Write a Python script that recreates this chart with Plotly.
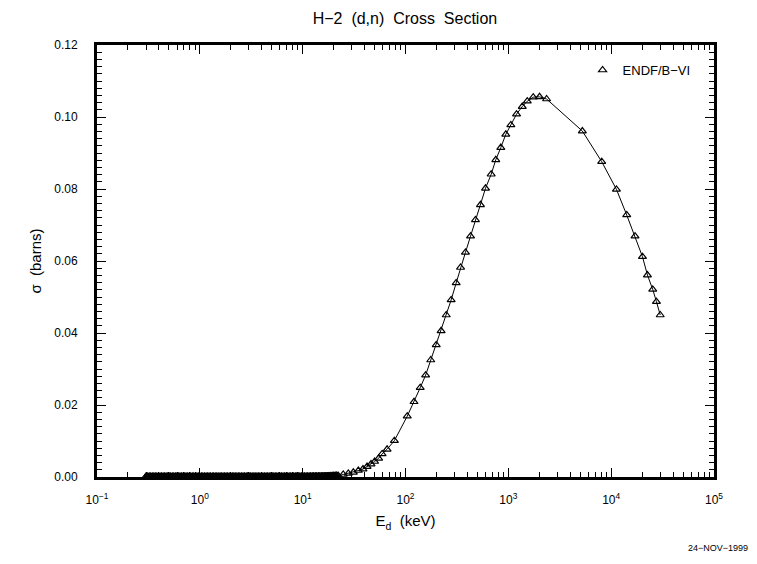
import plotly.graph_objects as go

# ---- data ----
# low-energy region: dense points, cross section essentially zero
energy_low_kev = [
    0.300, 0.311, 0.322, 0.333, 0.345, 0.357, 0.369, 0.382, 0.396, 0.410,
    0.424, 0.439, 0.454, 0.470, 0.487, 0.504, 0.521, 0.540, 0.558, 0.578,
    0.598, 0.619, 0.641, 0.663, 0.687, 0.711, 0.735, 0.761, 0.788, 0.815,
    0.844, 0.873, 0.904, 0.936, 0.968, 1.00, 1.04, 1.07, 1.11, 1.15,
    1.19, 1.23, 1.27, 1.32, 1.36, 1.41, 1.46, 1.51, 1.57, 1.62,
    1.68, 1.74, 1.80, 1.86, 1.93, 2.00, 2.07, 2.14, 2.21, 2.29,
    2.37, 2.45, 2.54, 2.63, 2.72, 2.82, 2.91, 3.02, 3.12, 3.23,
    3.35, 3.46, 3.59, 3.71, 3.84, 3.98, 4.11, 4.26, 4.41, 4.56,
    4.72, 4.89, 5.06, 5.24, 5.42, 5.61, 5.81, 6.01, 6.22, 6.44,
    6.66, 6.90, 7.14, 7.39, 7.65, 7.91, 8.19, 8.48, 8.77, 9.08,
    9.40, 9.73, 10.07, 10.42, 10.79, 11.16, 11.55, 11.96, 12.38, 12.81,
    13.26, 13.72, 14.20, 14.70, 15.21, 15.75, 16.30, 16.87, 17.46, 18.07,
    18.70, 19.36, 20.04, 20.74, 21.47,
]
sigma_low_barns = [
    0.0, 0.0, 0.0, 0.0, 0.0, 0.0, 0.0, 0.0, 0.0, 0.0,
    0.0, 0.0, 0.0, 0.0, 0.0, 0.0, 0.0, 0.0, 0.0, 0.0,
    0.0, 0.0, 0.0, 0.0, 0.0, 0.0, 0.0, 0.0, 0.0, 0.0,
    0.0, 0.0, 0.0, 0.0, 0.0, 0.0, 0.0, 0.0, 0.0, 0.0,
    0.0, 0.0, 0.0, 0.0, 0.0, 0.0, 0.0, 0.0, 0.0, 0.0,
    0.0, 0.0, 0.0, 0.0, 0.0, 0.0, 0.0, 0.0, 0.0, 0.0,
    0.0, 0.0, 0.0, 0.0, 0.0, 0.0, 0.0, 0.0, 0.0, 0.0,
    0.0, 0.0, 0.0, 0.0, 0.0, 0.0, 0.0, 0.0, 0.0, 0.0,
    0.0, 0.0, 0.0, 0.0, 0.0, 0.0, 0.000001, 0.000001, 0.000001, 0.000002,
    0.000002, 0.000003, 0.000003, 0.000004, 0.000005, 0.000006, 0.000007, 0.000008, 0.000010, 0.000012,
    0.000014, 0.000016, 0.000019, 0.000022, 0.000025, 0.000029, 0.000033, 0.000038, 0.000043, 0.000049,
    0.000055, 0.000062, 0.000070, 0.000079, 0.000089, 0.00010, 0.00011, 0.00012, 0.00014, 0.00015,
    0.00017, 0.00019, 0.00021, 0.00023, 0.00026,
]
# rise, peak and fall
energy_high_kev = [
    22.2, 24.8, 27.8, 31.1, 34.8, 38.6, 42.3, 46.2, 50.1, 54.8,
    59.2, 66.2, 78.0, 104.0, 121.0, 139.0, 157.0, 176.0, 199.0, 222.0,
    249.0, 278.0, 311.0, 343.0, 383.0, 429.0, 479.0, 536.0, 600.0, 681.0,
    755.0, 845.0, 945.0, 1058.0, 1202.0, 1366.0, 1528.0, 1747.0, 2012.0, 2355.0,
    5245.0, 8090.0, 11250.0, 14160.0, 17060.0, 20150.0, 22530.0, 25370.0, 27560.0, 30000.0,
]
sigma_high_barns = [
    0.00035, 0.0007, 0.0010, 0.0013, 0.0018, 0.0022, 0.0029, 0.0036, 0.0043, 0.0052,
    0.0064, 0.0077, 0.0101, 0.0169, 0.0209, 0.0248, 0.0283, 0.0325, 0.0367, 0.0406,
    0.0450, 0.0492, 0.0539, 0.0582, 0.0624, 0.0669, 0.0714, 0.0756, 0.0802, 0.0841,
    0.0881, 0.0915, 0.0952, 0.0978, 0.1008, 0.1029, 0.1044, 0.1055, 0.1056, 0.1050,
    0.0961, 0.0876, 0.0799, 0.0728, 0.0669, 0.0612, 0.0561, 0.0521, 0.0487, 0.0450,
]
series_name = "ENDF/B\u2212VI"
x_tick_values = [0.1, 1, 10, 100, 1000, 10000, 100000]
x_tick_labels = ["10<sup>\u22121</sup>", "10<sup>0</sup>", "10<sup>1</sup>",
                 "10<sup>2</sup>", "10<sup>3</sup>", "10<sup>4</sup>", "10<sup>5</sup>"]
title_text = "H\u22122  (d,n)  Cross  Section"
x_title = "E<sub>d</sub>  (keV)"
y_title = "\u03c3  (barns)"
date_stamp = "24\u2212NOV\u22121999"

energy_kev = energy_low_kev + energy_high_kev
sigma_barns = sigma_low_barns + sigma_high_barns

FONT = "Liberation Sans"

fig = go.Figure()
# connecting line
fig.add_trace(go.Scatter(
    x=energy_kev, y=sigma_barns, mode="lines",
    line=dict(color="black", width=1), showlegend=False, cliponaxis=False,
    hoverinfo="skip",
))
# densely packed low-energy markers (they merge into a solid band)
fig.add_trace(go.Scatter(
    x=energy_low_kev, y=sigma_low_barns, mode="markers", showlegend=False,
    marker=dict(symbol="triangle-up", size=9, color="black",
                line=dict(color="black", width=1)),
    cliponaxis=False,
))
# markers of the resolved part, with legend entry
fig.add_trace(go.Scatter(
    x=energy_high_kev, y=sigma_high_barns, mode="markers", name=series_name,
    marker=dict(symbol="triangle-up-open", size=7, color="black",
                line=dict(color="black", width=1.2)),
    cliponaxis=False,
))

fig.update_layout(
    width=749, height=556,
    margin=dict(l=89, r=43, t=37, b=87),
    paper_bgcolor="white", plot_bgcolor="white",
    font=dict(family=FONT, size=12, color="black"),
    title=dict(text=title_text, x=0.530, xanchor="center", y=0.982, yanchor="middle",
               font=dict(family=FONT, size=16, color="black")),
    legend=dict(x=0.787, y=0.942, xanchor="left", yanchor="middle",
                bgcolor="rgba(0,0,0,0)", font=dict(family=FONT, size=13),
                itemwidth=30),
    annotations=[dict(text=date_stamp, xref="paper", yref="paper",
                      x=1.059, y=-0.164, xanchor="right", yanchor="middle",
                      showarrow=False, font=dict(family=FONT, size=9, color="black"))],
)
fig.update_xaxes(
    type="log", range=[-1, 5],
    showline=True, linewidth=3, linecolor="black", mirror="allticks",
    layer="below traces",
    ticks="inside", ticklen=9, tickwidth=1, tickcolor="black",
    tickmode="array", tickvals=x_tick_values, ticktext=x_tick_labels,
    tickfont=dict(family=FONT, size=12),
    ticklabelstandoff=10,
    minor=dict(ticks="inside", ticklen=5, tickwidth=1, tickcolor="black",
               dtick="D1", showgrid=False),
    showgrid=False, zeroline=False,
    title=dict(text=x_title, font=dict(family=FONT, size=15), standoff=10),
)
fig.update_yaxes(
    range=[0, 0.12],
    showline=True, linewidth=3, linecolor="black", mirror="allticks",
    layer="below traces",
    ticks="inside", ticklen=9, tickwidth=1, tickcolor="black",
    dtick=0.02, tick0=0, tickformat=".2f",
    tickfont=dict(family=FONT, size=12),
    ticklabelstandoff=14,
    minor=dict(ticks="inside", ticklen=5, tickwidth=1, tickcolor="black",
               dtick=0.002, showgrid=False),
    showgrid=False, zeroline=False,
    title=dict(text=y_title, font=dict(family=FONT, size=15), standoff=9),
)

fig.write_html("out.html")
